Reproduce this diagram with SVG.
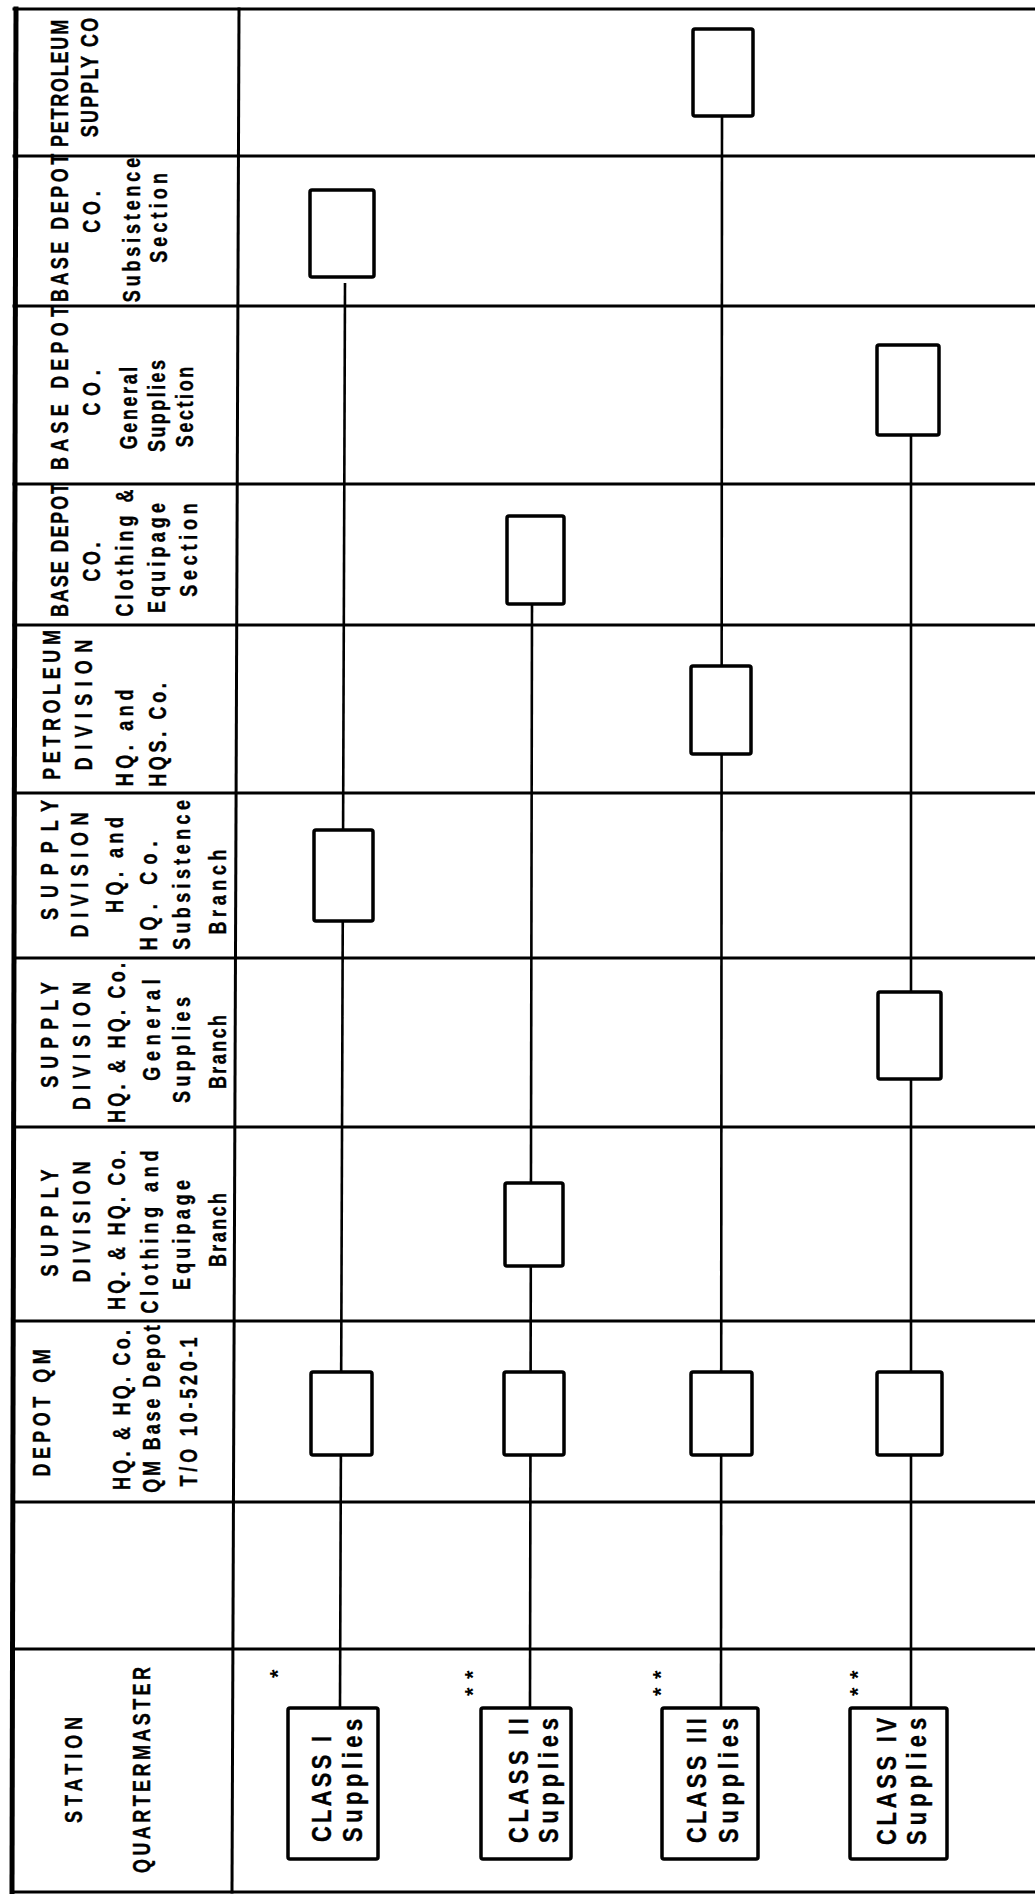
<svg xmlns="http://www.w3.org/2000/svg" width="1035" height="1894" viewBox="0 0 1035 1894">
<style>
.grid line{stroke:#000;stroke-width:3;stroke-linecap:square}
.box{fill:#fff;stroke:#000;stroke-width:3.5}
.conn{stroke:#000;stroke-width:2.6;fill:none}
.h{font-family:"Liberation Sans",Arial,sans-serif;font-weight:bold;font-size:23px;fill:#000;stroke:#000;stroke-width:0.4;text-anchor:middle}
.c{font-family:"Liberation Sans",Arial,sans-serif;font-weight:bold;font-size:28px;fill:#000;stroke:#000;stroke-width:0.4;text-anchor:start}
.star{font-family:"Liberation Sans",Arial,sans-serif;font-weight:bold;font-size:22px;fill:#000;text-anchor:start}
</style>
<rect x="0" y="0" width="1035" height="1894" fill="#fff"/>
<g id="grid" class="grid">
<line x1="14" y1="9" x2="1035" y2="9"/>
<line x1="14" y1="156" x2="1035" y2="156"/>
<line x1="14" y1="306" x2="1035" y2="306"/>
<line x1="14" y1="484" x2="1035" y2="484"/>
<line x1="14" y1="625" x2="1035" y2="625"/>
<line x1="14" y1="793" x2="1035" y2="793"/>
<line x1="14" y1="958" x2="1035" y2="958"/>
<line x1="14" y1="1127" x2="1035" y2="1127"/>
<line x1="14" y1="1321" x2="1035" y2="1321"/>
<line x1="14" y1="1502" x2="1035" y2="1502"/>
<line x1="14" y1="1649" x2="1035" y2="1649"/>
<line x1="12" y1="1892" x2="1035" y2="1892"/>
<line x1="16" y1="9" x2="12" y2="1892" style="stroke-width:5"/>
<line x1="239" y1="9" x2="232" y2="1892"/>
</g>
<g id="connectors">
<path class="conn" d="M345 283 L340 1708"/>
<path class="conn" d="M532 604 L530 1708"/>
<path class="conn" d="M722 116 L721 1708"/>
<path class="conn" d="M911 435 L911 1708"/>
</g>
<g id="hdr-petroleum-supply-co">
<text class="h" transform="translate(68,83.5) rotate(-90) scale(0.78,1)" textLength="163" lengthAdjust="spacing">PETROLEUM</text>
<text class="h" transform="translate(98,77.5) rotate(-90) scale(0.78,1)" textLength="153" lengthAdjust="spacing">SUPPLY CO</text>
</g>
<g id="hdr-base-depot-subsistence">
<text class="h" transform="translate(68,228) rotate(-90) scale(0.78,1)" textLength="190" lengthAdjust="spacing">BASE DEPOT</text>
<text class="h" transform="translate(100,212) rotate(-90) scale(0.78,1)" textLength="53" lengthAdjust="spacing">CO.</text>
<text class="h" transform="translate(140,230) rotate(-90) scale(0.78,1)" textLength="185" lengthAdjust="spacing">Subsistence</text>
<text class="h" transform="translate(167,218) rotate(-90) scale(0.78,1)" textLength="115" lengthAdjust="spacing">Section</text>
</g>
<g id="hdr-base-depot-general">
<text class="h" transform="translate(68,388) rotate(-90) scale(0.78,1)" textLength="210" lengthAdjust="spacing">BASE DEPOT</text>
<text class="h" transform="translate(100,393) rotate(-90) scale(0.78,1)" textLength="58" lengthAdjust="spacing">CO.</text>
<text class="h" transform="translate(137,408) rotate(-90) scale(0.78,1)" textLength="106" lengthAdjust="spacing">General</text>
<text class="h" transform="translate(165,406) rotate(-90) scale(0.78,1)" textLength="118" lengthAdjust="spacing">Supplies</text>
<text class="h" transform="translate(193,407) rotate(-90) scale(0.78,1)" textLength="103" lengthAdjust="spacing">Section</text>
</g>
<g id="hdr-base-depot-clothing">
<text class="h" transform="translate(68,550) rotate(-90) scale(0.78,1)" textLength="172" lengthAdjust="spacing">BASE DEPOT</text>
<text class="h" transform="translate(100,562) rotate(-90) scale(0.78,1)" textLength="50" lengthAdjust="spacing">CO.</text>
<text class="h" transform="translate(133,553) rotate(-90) scale(0.78,1)" textLength="163" lengthAdjust="spacing">Clothing &amp;</text>
<text class="h" transform="translate(165,558) rotate(-90) scale(0.78,1)" textLength="141" lengthAdjust="spacing">Equipage</text>
<text class="h" transform="translate(197,550) rotate(-90) scale(0.78,1)" textLength="120" lengthAdjust="spacing">Section</text>
</g>
<g id="hdr-petroleum-division">
<text class="h" transform="translate(60,705) rotate(-90) scale(0.78,1)" textLength="192" lengthAdjust="spacing">PETROLEUM</text>
<text class="h" transform="translate(92,705) rotate(-90) scale(0.78,1)" textLength="167" lengthAdjust="spacing">DIVISION</text>
<text class="h" transform="translate(133,738) rotate(-90) scale(0.78,1)" textLength="124" lengthAdjust="spacing">HQ. and</text>
<text class="h" transform="translate(166,735) rotate(-90) scale(0.78,1)" textLength="133" lengthAdjust="spacing">HQS. Co.</text>
</g>
<g id="hdr-supply-subsistence">
<text class="h" transform="translate(58,860) rotate(-90) scale(0.78,1)" textLength="154" lengthAdjust="spacing">SUPPLY</text>
<text class="h" transform="translate(88,875) rotate(-90) scale(0.78,1)" textLength="160" lengthAdjust="spacing">DIVISION</text>
<text class="h" transform="translate(123,865) rotate(-90) scale(0.78,1)" textLength="123" lengthAdjust="spacing">HQ. and</text>
<text class="h" transform="translate(157,896) rotate(-90) scale(0.78,1)" textLength="140" lengthAdjust="spacing">HQ. Co.</text>
<text class="h" transform="translate(190,875) rotate(-90) scale(0.78,1)" textLength="192" lengthAdjust="spacing">Subsistence</text>
<text class="h" transform="translate(226,892) rotate(-90) scale(0.78,1)" textLength="109" lengthAdjust="spacing">Branch</text>
</g>
<g id="hdr-supply-general">
<text class="h" transform="translate(58,1035) rotate(-90) scale(0.78,1)" textLength="135" lengthAdjust="spacing">SUPPLY</text>
<text class="h" transform="translate(90,1046) rotate(-90) scale(0.78,1)" textLength="164" lengthAdjust="spacing">DIVISION</text>
<text class="h" transform="translate(125,1043) rotate(-90) scale(0.78,1)" textLength="205" lengthAdjust="spacing">HQ. &amp; HQ. Co.</text>
<text class="h" transform="translate(160,1030) rotate(-90) scale(0.78,1)" textLength="130" lengthAdjust="spacing">General</text>
<text class="h" transform="translate(190,1050) rotate(-90) scale(0.78,1)" textLength="136" lengthAdjust="spacing">Supplies</text>
<text class="h" transform="translate(226,1052) rotate(-90) scale(0.78,1)" textLength="95" lengthAdjust="spacing">Branch</text>
</g>
<g id="hdr-supply-clothing">
<text class="h" transform="translate(58,1223) rotate(-90) scale(0.78,1)" textLength="137" lengthAdjust="spacing">SUPPLY</text>
<text class="h" transform="translate(90,1222) rotate(-90) scale(0.78,1)" textLength="155" lengthAdjust="spacing">DIVISION</text>
<text class="h" transform="translate(125,1230) rotate(-90) scale(0.78,1)" textLength="205" lengthAdjust="spacing">HQ. &amp; HQ. Co.</text>
<text class="h" transform="translate(158,1232) rotate(-90) scale(0.78,1)" textLength="209" lengthAdjust="spacing">Clothing and</text>
<text class="h" transform="translate(190,1235) rotate(-90) scale(0.78,1)" textLength="141" lengthAdjust="spacing">Equipage</text>
<text class="h" transform="translate(226,1230) rotate(-90) scale(0.78,1)" textLength="95" lengthAdjust="spacing">Branch</text>
</g>
<g id="hdr-depot-qm">
<text class="h" transform="translate(50,1413) rotate(-90) scale(0.78,1)" textLength="163" lengthAdjust="spacing">DEPOT QM</text>
<text class="h" transform="translate(130,1410) rotate(-90) scale(0.78,1)" textLength="205" lengthAdjust="spacing">HQ. &amp; HQ. Co.</text>
<text class="h" transform="translate(160,1409) rotate(-90) scale(0.78,1)" textLength="215" lengthAdjust="spacing">QM Base Depot</text>
<text class="h" transform="translate(197,1412) rotate(-90) scale(0.78,1)" textLength="191" lengthAdjust="spacing">T/O 10-520-1</text>
</g>
<g id="hdr-station-qm">
<text class="h" transform="translate(82,1770) rotate(-90) scale(0.78,1)" textLength="136" lengthAdjust="spacing">STATION</text>
<text class="h" transform="translate(150,1770) rotate(-90) scale(0.78,1)" textLength="264" lengthAdjust="spacing">QUARTERMASTER</text>
</g>
<g id="node-petroleum-supply-co"><rect class="box" x="693" y="29" width="60" height="87" rx="2"/></g>
<g id="node-bd-subsistence-section"><rect class="box" x="310" y="190" width="64" height="87" rx="2"/></g>
<g id="node-bd-general-section"><rect class="box" x="877" y="345" width="62" height="90" rx="2"/></g>
<g id="node-bd-clothing-section"><rect class="box" x="507" y="516" width="57" height="88" rx="2"/></g>
<g id="node-petroleum-division"><rect class="box" x="691" y="666" width="60" height="88" rx="2"/></g>
<g id="node-sd-subsistence-branch"><rect class="box" x="314" y="830" width="59" height="91" rx="2"/></g>
<g id="node-sd-general-branch"><rect class="box" x="878" y="992" width="63" height="87" rx="2"/></g>
<g id="node-sd-clothing-branch"><rect class="box" x="505" y="1183" width="58" height="83" rx="2"/></g>
<g id="node-depot-1"><rect class="box" x="311" y="1372" width="61" height="83" rx="2"/></g>
<g id="node-depot-2"><rect class="box" x="504" y="1372" width="60" height="83" rx="2"/></g>
<g id="node-depot-3"><rect class="box" x="691" y="1372" width="61" height="83" rx="2"/></g>
<g id="node-depot-4"><rect class="box" x="877" y="1372" width="65" height="83" rx="2"/></g>
<g id="node-class-1">
<rect class="box" x="288" y="1708" width="90" height="151" rx="2"/>
<text class="c" transform="translate(331,1842) rotate(-90) scale(0.78,1)" textLength="136" lengthAdjust="spacing">CLASS I</text>
<text class="c" transform="translate(362,1842) rotate(-90) scale(0.78,1)" textLength="158" lengthAdjust="spacing">Supplies</text>
</g>
<g id="node-class-2">
<rect class="box" x="481" y="1708" width="90" height="151" rx="2"/>
<text class="c" transform="translate(528,1843) rotate(-90) scale(0.78,1)" textLength="160" lengthAdjust="spacing">CLASS II</text>
<text class="c" transform="translate(558,1843) rotate(-90) scale(0.78,1)" textLength="160" lengthAdjust="spacing">Supplies</text>
</g>
<g id="node-class-3">
<rect class="box" x="662" y="1708" width="96" height="151" rx="2"/>
<text class="c" transform="translate(706,1843) rotate(-90) scale(0.78,1)" textLength="160" lengthAdjust="spacing">CLASS III</text>
<text class="c" transform="translate(738,1843) rotate(-90) scale(0.78,1)" textLength="160" lengthAdjust="spacing">Supplies</text>
</g>
<g id="node-class-4">
<rect class="box" x="850" y="1708" width="97" height="151" rx="2"/>
<text class="c" transform="translate(896,1845) rotate(-90) scale(0.78,1)" textLength="163" lengthAdjust="spacing">CLASS IV</text>
<text class="c" transform="translate(926,1845) rotate(-90) scale(0.78,1)" textLength="163" lengthAdjust="spacing">Supplies</text>
</g>
<g id="stars">
<text class="star" transform="translate(285,1678) rotate(-90)">*</text>
<text class="star" transform="translate(480,1696) rotate(-90)" letter-spacing="8.4">**</text>
<text class="star" transform="translate(668,1696) rotate(-90)" letter-spacing="8.4">**</text>
<text class="star" transform="translate(865,1696) rotate(-90)" letter-spacing="8.4">**</text>
</g>
</svg>
